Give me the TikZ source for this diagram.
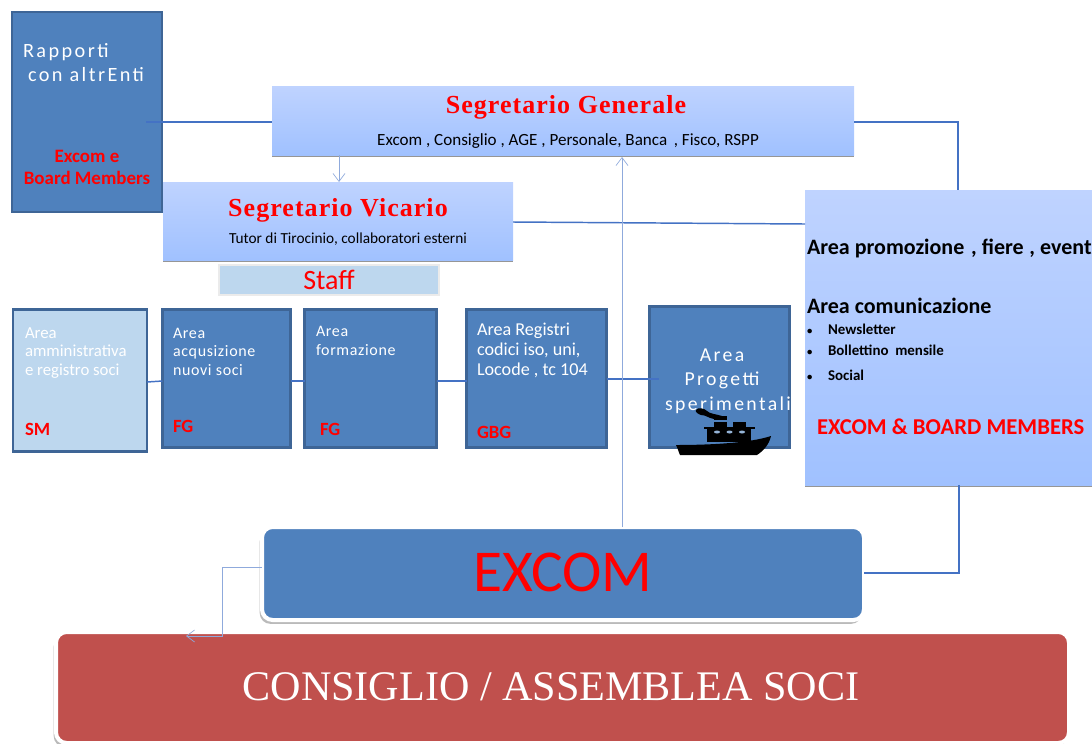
\documentclass[tikz,border=0pt]{standalone}
\usepackage{fontspec}
\setmainfont{Carlito}
\newfontfamily\serifb{Liberation Serif}
\newfontfamily\carlsp[LetterSpace=12]{Carlito}
\newfontfamily\carlmd[LetterSpace=4]{Carlito}
\newfontfamily\serifsp[LetterSpace=4]{Liberation Serif}
\usetikzlibrary{shadows,arrows.meta}
\definecolor{boxblue}{HTML}{4F81BD}
\definecolor{boxedge}{HTML}{3E6596}
\definecolor{paleblue}{HTML}{BDD7EE}
\definecolor{gradtop}{HTML}{BFD3FF}
\definecolor{gradbot}{HTML}{A0C1FF}
\definecolor{linkblue}{HTML}{4472C4}
\definecolor{thinblue}{HTML}{8FAADC}
\definecolor{redbox}{HTML}{C0504D}
\definecolor{redtxt}{HTML}{FF0000}
\newcommand{\fs}[1]{\fontsize{#1}{#1}\selectfont}
\tikzset{
  x=0.75pt,y=-0.75pt,
  box/.style={draw=none,inner sep=0pt,outer sep=0pt,rectangle},
  bluebox/.style={box,fill=boxblue,draw=boxedge,line width=2.2pt},
  palebox/.style={box,fill=paleblue,draw=boxedge,line width=2.2pt},
  gradbox/.style={box,top color=gradtop,bottom color=gradbot,
    drop shadow={shadow xshift=0pt,shadow yshift=-1.8pt,fill=black!55,opacity=.75}},
  roundbox/.style={box,rounded corners=8pt,draw=white,line width=3pt,
    drop shadow={shadow xshift=-1.7pt,shadow yshift=-2.9pt,fill=black!45,opacity=.6}},
  txt/.style={inner sep=0pt,outer sep=0pt,anchor=base west,align=left},
  wt/.style={txt,text=white},
  rd/.style={txt,text=redtxt,font=\bfseries},
  bk/.style={txt,text=black},
  link/.style={draw=linkblue,line width=1.1pt},
  thin link/.style={draw=thinblue,line width=0.75pt},
  openhead/.style={-{Straight Barb[length=6pt,width=9pt,line width=0.5pt]}}
}
\begin{document}
\begin{tikzpicture}
\useasboundingbox (0,0) rectangle (1092,743);
\clip (0,0) rectangle (1092,743);

% boxes
\node[bluebox,minimum width=112.5pt,minimum height=150pt] (rapporti) at (87,112) {};
\node[gradbox,minimum width=436.5pt,minimum height=51.75pt] (sg) at (563,120.5) {};
\node[gradbox,minimum width=262.5pt,minimum height=58.5pt] (sv) at (338,221) {};
\node[box,fill=paleblue,draw=black!8,line width=.8pt,minimum width=165pt,minimum height=22.5pt,
  text=redtxt,font=\fs{21}] (staff) at (329,280) {\raisebox{0.8pt}{Staff}};
\node[palebox,minimum width=100.5pt,minimum height=107pt] (amm) at (80,380.5) {};
\node[bluebox,minimum width=96pt,minimum height=104pt] (acq) at (226.5,378.5) {};
\node[bluebox,minimum width=99pt,minimum height=104pt] (form) at (370.5,378.5) {};
\node[bluebox,minimum width=105pt,minimum height=104pt] (reg) at (536.5,378.5) {};
\node[bluebox,minimum width=105pt,minimum height=106pt] (prog) at (719.5,377) {};
\node[gradbox,minimum width=225pt,minimum height=221.25pt] (right) at (955,337.5) {};
\node[roundbox,fill=boxblue,minimum width=451.5pt,minimum height=69.75pt,
  text=redtxt,font=\fs{44.5}] (excom) at (563,573.5) {\raisebox{2.2pt}{EXCOM}};
\node[roundbox,fill=redbox,minimum width=759.75pt,minimum height=83.25pt,
  text=white,font=\serifb\fs{31.6}] (cons) at (562.5,687.5) {\raisebox{1pt}{CONSIGLIO / ASSEMBLEA SOCI}\hspace*{17.25pt}};

% free ends
\coordinate (rapin) at (146,122);
\coordinate (proin) at (659,379);
\coordinate (sgarrow) at (622,157);
\coordinate (consend) at (186,636);

% connectors
\draw[link] (rapin) -- (sg.west |- rapin);
\draw[thin link,openhead] (sg.south -| 339,0) -- (sv.north -| 339,0);
\draw[link] (sg.east |- 0,122) -| (right.north -| 958,0);
\draw[link] (sv.east |- 0,222) -- (right.west |- 0,224);
\draw[link] (amm.east |- 0,382) -- (acq.west |- 0,381);
\draw[link] (acq.east |- 0,381) -- (form.west |- 0,381);
\draw[link] (form.east |- 0,381) -- (reg.west |- 0,381);
\draw[link] (reg.east |- 0,379) -- (proin);
\draw[thin link,openhead] (excom.north -| 622,0) -- (sgarrow);
\draw[link] (excom.east |- 0,573) -| (right.south -| 959,0);
\draw[thin link,openhead] (excom.west |- 0,567) -| (222,636) -- (consend);

% texts
\node[wt,font=\carlsp\fs{15.2}] (t1) at (23,57) {Rapporti};
\node[wt,font=\carlsp\fs{15.2}] (t2) at (28,81) {con altrEnti};
\node[rd,font=\bfseries\fs{14.2},anchor=base] (t3) at (87,162) {Excom e};
\node[rd,font=\bfseries\fs{14.2},anchor=base] (t4) at (87,184) {Board Members};

\node[txt,text=redtxt,font=\serifsp\bfseries\fs{19.5},anchor=base] (t5) at (566,113) {Segretario Generale};
\node[bk,font=\fs{12.8},anchor=base] (t6) at (568,145) {Excom , Consiglio , AGE , Personale, Banca\, , Fisco, RSPP};
\node[txt,text=redtxt,font=\serifsp\bfseries\fs{19.5},anchor=base] (t7) at (338,216) {Segretario Vicario};
\node[bk,font=\fs{11.5},anchor=base] (t8) at (348,243) {Tutor di Tirocinio, collaboratori esterni};

\node[wt,font=\fs{12.6}] (t9) at (25,338) {Area};
\node[wt,font=\fs{12.6}] (t10) at (25,356) {amministrativa};
\node[wt,font=\fs{12.6}] (t11) at (25,375) {e registro soci};
\node[rd,font=\bfseries\fs{14}] (t12) at (25,435) {SM};

\node[wt,font=\carlmd\fs{12}] (t13) at (173,338) {Area};
\node[wt,font=\carlmd\fs{12}] (t14) at (173,356) {acqusizione};
\node[wt,font=\carlmd\fs{12}] (t15) at (173,375) {nuovi soci};
\node[rd,font=\bfseries\fs{14}] (t16) at (173,432) {FG};

\node[wt,font=\carlmd\fs{12}] (t17) at (316,336) {Area};
\node[wt,font=\carlmd\fs{12}] (t18) at (316,355) {formazione};
\node[rd,font=\bfseries\fs{14}] (t19) at (320,435) {FG};

\node[wt,font=\fs{13.6}] (t20) at (477,335) {Area Registri};
\node[wt,font=\fs{13.6}] (t21) at (477,355) {codici iso, uni,};
\node[wt,font=\fs{13.6}] (t22) at (477,375) {Locode , tc 104};
\node[rd,font=\bfseries\fs{14}] (t23) at (477,438) {GBG};

\node[wt,font=\carlsp\fs{14.8},anchor=base] (t24) at (722,361) {Area};
\node[wt,font=\carlsp\fs{14.8},anchor=base] (t25) at (722,385) {Progetti};
\node[wt,font=\carlsp\fs{14.8},anchor=base] (t26) at (728,410) {sperimentali};

\node[bk,font=\bfseries\fs{16.5}] (t27) at (807,254) {Area promozione\hspace{1.4pt} , fiere\hspace{0.6pt} , event};
\node[bk,font=\bfseries\fs{16.5}] (t28) at (807,313) {Area comunicazione};
\node[bk,font=\bfseries\fs{8}] (b1) at (807,334) {•};
\node[bk,font=\bfseries\fs{11.2}] (t29) at (828,334) {Newsletter};
\node[bk,font=\bfseries\fs{8}] (b2) at (807,355) {•};
\node[bk,font=\bfseries\fs{11.2}] (t30) at (828,355) {Bollettino\ \ mensile};
\node[bk,font=\bfseries\fs{8}] (b3) at (807,380) {•};
\node[bk,font=\bfseries\fs{11.2}] (t31) at (828,380) {Social};
\node[rd,font=\bfseries\fs{17}] (t32) at (817,434) {EXCOM \& BOARD MEMBERS};

% ship
\fill[black] (676,445) .. controls (710,445) and (750,443) .. (771,436)
  .. controls (769,445) and (763,451) .. (757,455) -- (680,455) .. controls (678,451) and (678,448) .. (676,445) -- cycle;
\fill[black] (707,429) rectangle (751,441.5);
\fill[black] (704,427) rectangle (755,429);
\fill[black] (714,422) rectangle (727,428);
\fill[black] (733,422) rectangle (746,428);
\fill[black] (714,416) rectangle (727,420);
\fill[black] (696,410) .. controls (698,407) and (704,408) .. (707,411)
  .. controls (710,414) and (716,414) .. (722,416) -- (714,419)
  .. controls (708,418) and (706,415) .. (701,415) .. controls (698,414) and (695,412) .. (696,410) -- cycle;
\fill[boxblue!60] (717,432) ellipse (3 and 1.5);
\fill[boxblue!60] (729.5,432) ellipse (3 and 1.5);
\fill[boxblue!60] (742,432) ellipse (3 and 1.5);
\end{tikzpicture}
\end{document}
